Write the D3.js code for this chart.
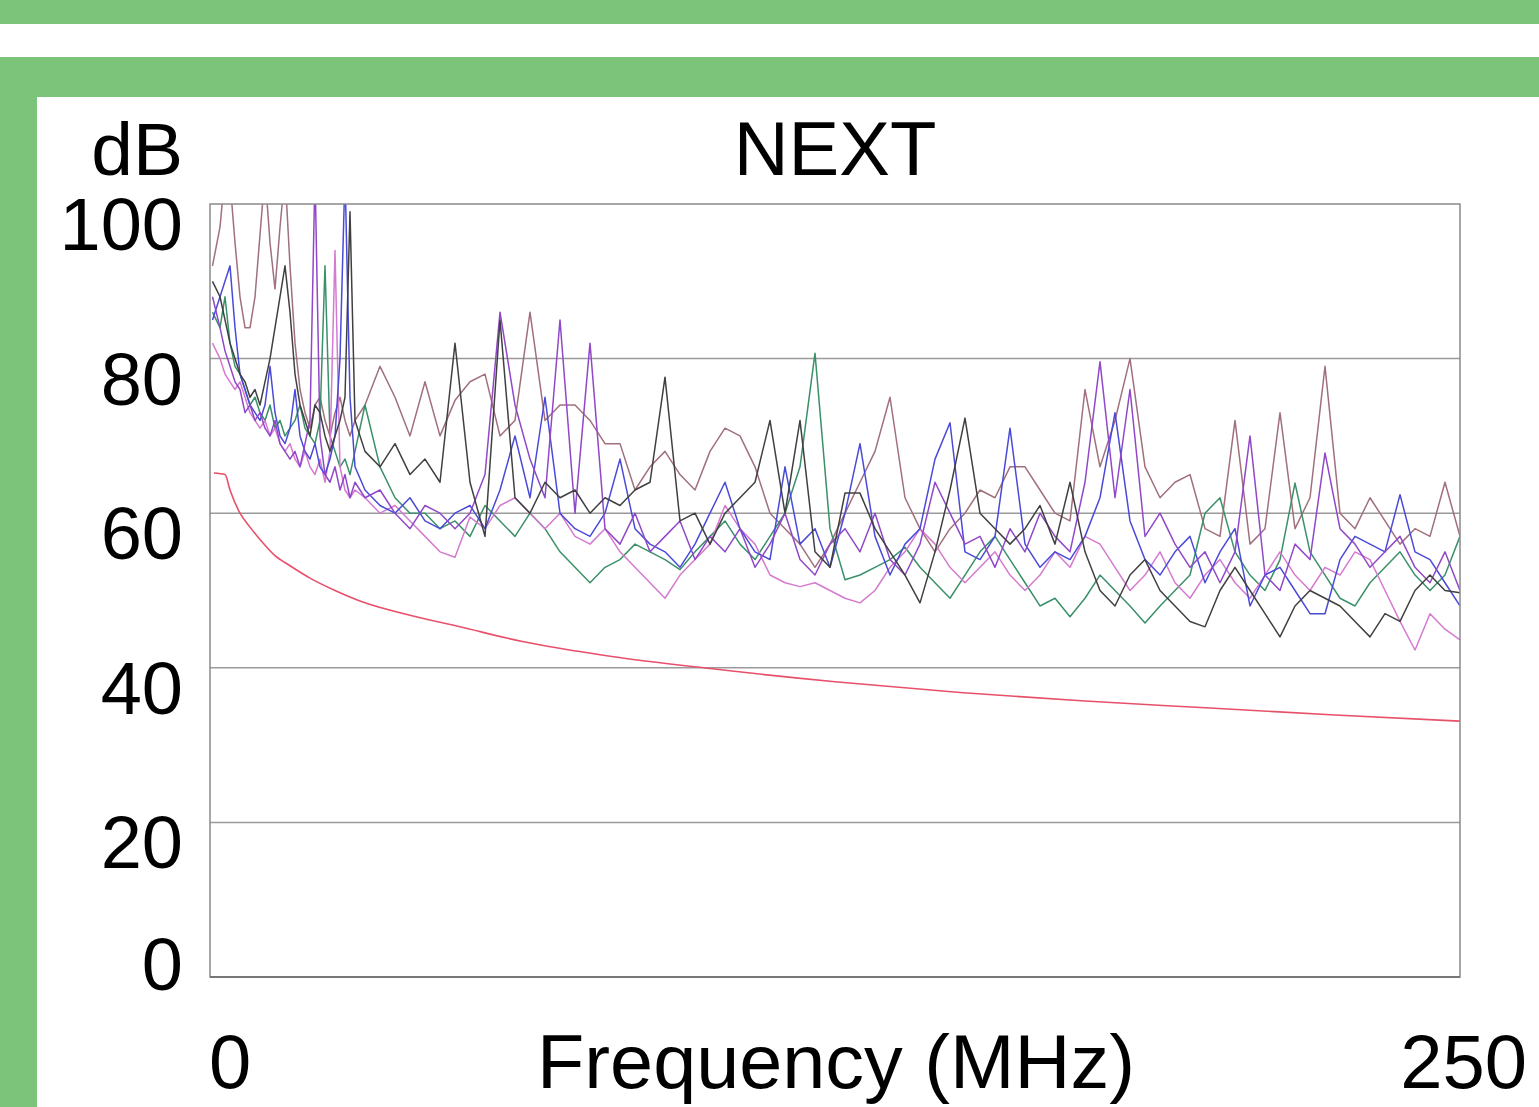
<!DOCTYPE html>
<html>
<head>
<meta charset="utf-8">
<script src="https://cdn.jsdelivr.net/npm/d3@7"></script>
<style>
    body { margin: 0; background: #fff; }
    svg { display: block; }
    text { font-family: "Liberation Sans", Arial, sans-serif; fill: #000; }
</style>
</head>
<body>
<div id="chart"></div>
<script>

// Frequency points (MHz) shared by all pair traces
const freqs = [
    0.5, 2, 3, 4, 5, 6, 7, 8, 9, 10, 11, 12, 13, 14, 15, 16, 17, 18, 19, 20,
    21, 22, 23, 24, 25, 26, 27, 28, 29,
    31, 34, 37, 40, 43, 46, 49, 52, 55, 58, 61, 64, 67, 70, 73, 76, 79, 82, 85, 88,
    91, 94, 97, 100, 103, 106, 109, 112, 115, 118, 121, 124, 127, 130, 133, 136, 139, 142, 145, 148,
    151, 154, 157, 160, 163, 166, 169, 172, 175, 178, 181, 184, 187, 190, 193, 196, 199, 202, 205, 208,
    211, 214, 217, 220, 223, 226, 229, 232, 235, 238, 241, 244, 247, 250
];

// NEXT (dB) per trace
const nextMauve = [
    92, 97, 104, 103, 95, 88, 84, 84, 88, 96, 104, 95, 89, 97, 104, 92, 82, 76, 73, 71,
    74, 75, 72, 70, 73, 75, 72, 70, 72,
    74, 79, 75, 70, 77, 70, 74.6, 77, 78, 70, 72, 86, 72, 74, 74, 72, 69, 69, 63, 66,
    68, 65, 63, 68, 71, 70, 66, 60, 58, 56, 53, 56, 60, 64, 68, 75, 62, 58, 55, 58,
    60, 63, 62, 66, 66, 63, 60, 59, 76, 66, 72, 80, 66, 62, 64, 65, 58, 57, 72, 56,
    58, 73, 58, 62, 79, 60, 58, 62, 59, 56, 58, 57, 64, 57
];

const nextBlack = [
    90, 88, 85, 82, 80, 78, 77, 75, 76, 74, 77, 80, 84, 88, 92, 86, 78, 74, 72, 70,
    74, 73, 70, 68, 70, 72, 75, 99, 72,
    68, 66, 69, 65, 67, 64, 82, 64, 57, 85, 62, 60, 64, 62, 63, 60, 62, 61, 63, 64,
    77.6, 59, 60, 56, 60, 62, 64, 72, 60, 72, 55, 53, 62.6, 62.6, 58, 55, 52, 48.4, 55, 63,
    72.3, 60, 58, 56, 58, 61, 56, 64, 55, 50, 48, 52, 54, 50, 48, 46, 45.3, 50, 53, 50,
    47, 44, 48, 50, 49, 48, 46, 44, 47, 46, 50, 52, 50, 49.7
];

const nextBlue = [
    85, 88, 90, 92, 84, 78, 76, 74, 73, 72, 74, 79, 73, 70, 69, 71, 76, 70, 68, 67,
    69, 66, 65, 67, 70, 80, 104, 75, 66,
    63, 61, 60, 62, 59, 58, 60, 61, 58, 63, 70, 62, 75, 60, 58, 57, 60, 67, 58, 56,
    55, 53, 56, 60, 64, 58, 55, 54, 66, 56, 58, 53, 60, 69, 57, 52, 56, 58, 67, 71.7,
    55, 54, 57, 71, 56, 53, 55, 54, 57, 62, 73, 59, 54, 52, 55, 57, 51, 55, 58, 48,
    52, 53, 50, 47, 47, 54, 57, 56, 55, 62.4, 55, 54, 51, 48
];

const nextPurple = [
    88, 84, 81, 79, 77, 76, 73, 74, 72, 73, 71, 70, 72, 69, 68, 67, 68, 66, 69, 72,
    104, 70, 65, 64, 66, 63, 65, 62, 64,
    62, 63, 60, 58, 61, 60, 58, 60, 65, 86, 74, 67, 62, 85, 60, 82, 58, 56, 60, 55,
    57, 59, 54, 57, 55, 58, 53, 56, 60, 54, 52, 56, 58, 55, 60, 54, 52, 56, 64, 60,
    56, 57, 53, 58, 55, 60, 57, 55, 64, 79.6, 62, 76, 57, 60, 56, 53, 55, 51, 55, 70,
    52, 50, 56, 54, 67.8, 58, 56, 53, 55, 57, 53, 51, 55, 50
];

const nextGreen = [
    86, 84, 88, 82, 79, 78, 76, 74, 75, 73, 72, 74, 71, 72, 70, 71, 72, 74, 71, 70,
    69, 72, 92, 70, 68, 66, 67, 65, 68,
    74, 66, 62, 60, 60, 58, 59, 57, 61, 59, 57, 60, 58, 55, 53, 51, 53, 54, 56, 55,
    54, 52.7, 55, 57, 59, 56, 54, 57, 60, 66, 80.7, 58, 51.4, 52, 53, 54, 55.6, 53, 51, 49,
    52, 55, 57, 54, 51, 48, 49, 46.6, 49, 52, 50, 48, 45.8, 48, 50, 52, 60, 62, 55, 52,
    50, 54, 63.9, 55, 52, 49, 48, 51, 53, 55, 52, 50, 52, 57
];

const nextPink = [
    82, 80, 78, 77, 76, 77, 75, 73, 72, 71, 72, 70, 71, 69, 68, 69, 67, 66, 68, 66,
    65, 67, 64, 68, 94, 66, 63, 62, 63,
    62, 60, 61, 59, 57, 55, 54.3, 59.5, 58, 61, 62, 60, 58, 60, 57, 56, 58, 55, 53, 51,
    49, 52, 54, 56, 61, 58, 56, 52, 51, 50.5, 51, 50, 49, 48.4, 50, 53, 55, 58, 56, 53,
    51, 53, 55, 52, 50, 52, 55, 53, 57, 56, 53, 50, 52, 55, 51, 49, 52, 54, 51, 49,
    52, 55, 52, 50, 53, 52, 55, 54, 50, 46, 42.3, 47, 45, 43.6
];

// Limit line
const limitFreqs = [0.8, 3, 4, 6, 8, 10, 13, 16, 20, 25, 31, 40, 50, 62.5, 80, 100, 125, 150, 175, 200, 225, 250];
const limitValues = [65.2, 65, 63, 60, 58.2, 56.6, 54.5, 53.2, 51.6, 50, 48.4, 46.8, 45.3, 43.4, 41.5, 39.9, 38.2, 36.8, 35.7, 34.8, 33.9, 33.1];

const yTicks = [0, 20, 40, 60, 80, 100];
const xTickLabels = ["0", "250"];

const traces = [
    { values: nextMauve, color: "#a0707c" },
    { values: nextGreen, color: "#3a9068" },
    { values: nextPink, color: "#d47ad0" },
    { values: nextBlue, color: "#4a4ad8" },
    { values: nextPurple, color: "#9048c8" },
    { values: nextBlack, color: "#404040" }
];

const width = 1539;
const height = 1107;
const green = "#7cc47a";

const svg = d3.select("#chart")
    .append("svg")
    .attr("width", width)
    .attr("height", height);

// Green frame pieces
svg.append("rect").attr("x", 0).attr("y", 0).attr("width", width).attr("height", 24).attr("fill", green);
svg.append("rect").attr("x", 0).attr("y", 57).attr("width", width).attr("height", 40).attr("fill", green);
svg.append("rect").attr("x", 0).attr("y", 57).attr("width", 37).attr("height", height - 57).attr("fill", green);

const plot = { left: 210, right: 1460, top: 204, bottom: 977 };

const x = d3.scaleLinear()
    .domain([0, 250])
    .range([plot.left, plot.right]);

const y = d3.scaleLinear()
    .domain([0, 100])
    .range([plot.bottom, plot.top]);

// Grid lines
svg.append("g")
    .selectAll("line")
    .data(yTicks.filter(function(d) { return d > 0 && d < 100; }))
    .enter()
    .append("line")
    .attr("x1", plot.left)
    .attr("x2", plot.right)
    .attr("y1", function(d) { return y(d); })
    .attr("y2", function(d) { return y(d); })
    .attr("stroke", "#9a9a9a")
    .attr("stroke-width", 1.5);

svg.append("clipPath")
    .attr("id", "plotClip")
    .append("rect")
    .attr("x", plot.left)
    .attr("y", plot.top)
    .attr("width", plot.right - plot.left)
    .attr("height", plot.bottom - plot.top);

const line = d3.line()
    .x(function(d) { return x(d[0]); })
    .y(function(d) { return y(d[1]); });

const traceGroup = svg.append("g").attr("clip-path", "url(#plotClip)");

traceGroup.selectAll("path.trace")
    .data(traces)
    .enter()
    .append("path")
    .attr("class", "trace")
    .attr("d", function(t) {
        return line(freqs.map(function(f, i) { return [f, t.values[i]]; }));
    })
    .attr("fill", "none")
    .attr("stroke", function(t) { return t.color; })
    .attr("stroke-width", 1.5)
    .attr("stroke-linejoin", "round");

// Limit curve
traceGroup.append("path")
    .attr("d", line.curve(d3.curveMonotoneX)(limitFreqs.map(function(f, i) { return [f, limitValues[i]]; })))
    .attr("fill", "none")
    .attr("stroke", "#e8506a")
    .attr("stroke-width", 1.6);

// Plot frame
svg.append("rect")
    .attr("x", plot.left)
    .attr("y", plot.top)
    .attr("width", plot.right - plot.left)
    .attr("height", plot.bottom - plot.top)
    .attr("fill", "none")
    .attr("stroke", "#8a8a8a")
    .attr("stroke-width", 1.5);

svg.append("line")
    .attr("x1", plot.left).attr("x2", plot.right)
    .attr("y1", plot.bottom).attr("y2", plot.bottom)
    .attr("stroke", "#777")
    .attr("stroke-width", 2);

// Y labels
svg.append("g")
    .selectAll("text")
    .data(yTicks)
    .enter()
    .append("text")
    .attr("x", 183)
    .attr("y", function(d) { return d === 0 ? y(d) + 13 : y(d) + 46; })
    .attr("text-anchor", "end")
    .attr("font-size", 74)
    .text(function(d) { return d; });

svg.append("text")
    .attr("x", 183)
    .attr("y", 175)
    .attr("text-anchor", "end")
    .attr("font-size", 75)
    .text("dB");

svg.append("text")
    .attr("x", 835)
    .attr("y", 175)
    .attr("text-anchor", "middle")
    .attr("font-size", 76)
    .text("NEXT");

// X labels
svg.append("text")
    .attr("x", x(0) - 1)
    .attr("y", 1088)
    .attr("text-anchor", "start")
    .attr("font-size", 76)
    .text(xTickLabels[0]);

svg.append("text")
    .attr("x", 1527)
    .attr("y", 1088)
    .attr("text-anchor", "end")
    .attr("font-size", 76)
    .text(xTickLabels[1]);

svg.append("text")
    .attr("x", 537)
    .attr("y", 1088)
    .attr("text-anchor", "start")
    .attr("font-size", 76)
    .attr("textLength", 598)
    .attr("lengthAdjust", "spacingAndGlyphs")
    .text("Frequency (MHz)");

</script>
</body>
</html>
